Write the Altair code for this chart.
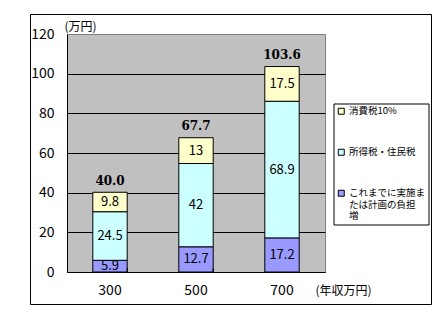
import altair as alt
import pandas as pd

categories = ["300", "500", "700"]
series = ["これまでに実施または計画の負担増", "所得税・住民税", "消費税10%"]
base_burden = [5.9, 12.7, 17.2]
income_tax = [24.5, 42, 68.9]
consumption_tax = [9.8, 13, 17.5]
totals = [40.0, 67.7, 103.6]
colors = ["#9999FF", "#CCFFFF", "#FFFFCC"]
tick_between = ["300", "500"]

rows = []
for i, c in enumerate(categories):
    for k, (name, vals) in enumerate(zip(series, [base_burden, income_tax, consumption_tax])):
        rows.append({"income": c, "series": name, "value": vals[i], "order": k})
df = pd.DataFrame(rows)
df_tot = pd.DataFrame({"income": categories, "total": totals})

FONT = "Noto Sans CJK JP"

xscale = alt.Scale(domain=categories, paddingInner=0.6, paddingOuter=0.3)
yscale = alt.Scale(domain=[0, 120])

x_axis = alt.Axis(title="(年収万円)", labelAngle=0, ticks=False,
                  labelFontSize=14, labelFont=FONT, labelPadding=11,
                  labelColor="black", domainColor="black",
                  titleFont=FONT, titleFontSize=12, titleFontWeight="normal",
                  titleX=248, titleY=18, titleAlign="left", titleBaseline="middle")
y_axis = alt.Axis(title="(万円)", values=[0, 20, 40, 60, 80, 100, 120],
                  ticks=False, labelFontSize=14, labelFont=FONT, labelPadding=13,
                  labelOverlap=False, labelColor="black", domainColor="black",
                  gridColor={"condition": {"test": "datum.value >= 120", "value": "#808080"}, "value": "black"},
                  titleFont=FONT, titleFontSize=12, titleFontWeight="normal",
                  titleAngle=0, titleX=-3, titleY=-8, titleAlign="left", titleBaseline="middle")

frame = alt.Chart(pd.DataFrame({"a": [0]})).mark_rect(
    filled=False, stroke="black", strokeWidth=1
).encode(
    x=alt.value(-36.5), x2=alt.value(364.5), y=alt.value(-19.5), y2=alt.value(270.5)
)

bars = alt.Chart(df).mark_bar(stroke="black", strokeWidth=1).encode(
    x=alt.X("income:N", scale=xscale, sort=categories, axis=x_axis),
    y=alt.Y("value:Q", scale=yscale, stack="zero", axis=y_axis),
    color=alt.Color("series:N", scale=alt.Scale(domain=list(reversed(series)), range=list(reversed(colors))),
                    legend=alt.Legend(
                        orient="none", legendX=266.5, legendY=69.5, title=None,
                        strokeColor="black", fillColor="white", padding=3,
                        symbolType="square", symbolSize=36, symbolStrokeColor="black",
                        symbolStrokeWidth=1, labelFont=FONT, labelFontSize=9.5,
                        labelColor="black", labelOffset=3, labelLimit=300, rowPadding=30,
                        labelExpr="datum.label == 'これまでに実施または計画の負担増' ? ['これまでに実施ま', 'たは計画の負担', '増'] : datum.label")),
    order=alt.Order("order:Q"),
)

labels = alt.Chart(df).mark_text(font=FONT, fontSize=13, color="black").encode(
    x=alt.X("income:N", scale=xscale, sort=categories, axis=x_axis),
    y=alt.Y("value:Q", scale=yscale, stack="zero", bandPosition=0.5, axis=y_axis),
    text=alt.Text("value:Q"),
    order=alt.Order("order:Q"),
    detail="series:N",
)

tot = alt.Chart(df_tot).mark_text(font="DejaVu Serif", fontWeight="bold", fontSize=12,
                                   color="black", dy=-12).encode(
    x=alt.X("income:N", scale=xscale, sort=categories, axis=x_axis),
    y=alt.Y("total:Q", scale=yscale, axis=y_axis),
    text=alt.Text("total:Q", format=".1f"),
)

ticks = alt.Chart(pd.DataFrame({"income": tick_between, "y0": [0, 0], "y1": [2, 2]})).mark_rule(
    color="black", strokeWidth=1
).encode(
    x=alt.X("income:N", scale=xscale, sort=categories, bandPosition=1, axis=x_axis),
    y=alt.Y("y0:Q", scale=yscale, axis=y_axis),
    y2="y1:Q",
)

chart = alt.layer(frame, bars, labels, tot, ticks).properties(
    width=258, height=238,
    padding={"left": 67, "top": 34, "right": 122, "bottom": 46},
    autosize=alt.AutoSizeParams(type="none"),
    background="white",
).configure_view(fill="#C0C0C0", stroke="#808080", strokeWidth=1)

chart.save("out.html", embed_options={"renderer": "svg", "actions": False})
